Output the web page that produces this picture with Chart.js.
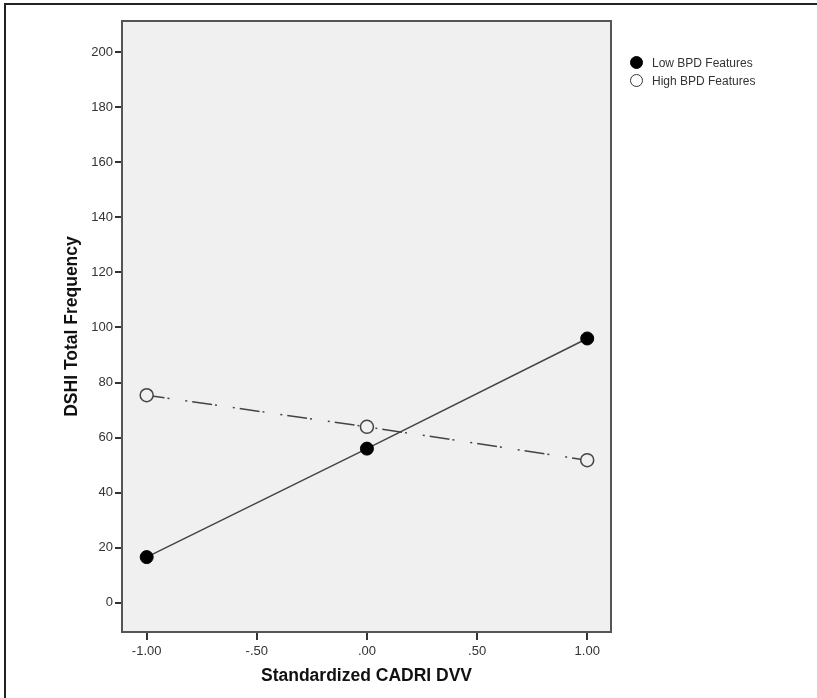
<!DOCTYPE html>
<html>
<head>
<meta charset="utf-8">
<script src="https://cdn.jsdelivr.net/npm/chart.js@4.4.0/dist/chart.umd.min.js"></script>
<style>
  body { margin: 0; background: #fff; font-family: "Liberation Sans", Arial, sans-serif; }
  #wrap { position: relative; width: 817px; height: 698px; overflow: hidden; }
  #frame { position: absolute; left: 4px; top: 3px; width: 900px; height: 900px; border-left: 2px solid #222; border-top: 2px solid #222; }
  #chart { position: absolute; left: 0; top: 0; }
  .leg { position: absolute; left: 630px; font-size: 12px; color: #333; line-height: 14px; }
  .leg span.dot { position: absolute; left: 0; top: 1px; width: 13px; height: 13px; border-radius: 50%; box-sizing: border-box; }
  .leg span.txt { position: absolute; left: 22px; top: 1px; white-space: nowrap; }
</style>
</head>
<body>
<div id="wrap">
  <div id="frame"></div>
  <canvas id="chart" width="817" height="698"></canvas>
  <div class="leg" style="top:55px"><span class="dot" style="background:#000;border:1.5px solid #000"></span><span class="txt">Low BPD Features</span></div>
  <div class="leg" style="top:73px"><span class="dot" style="background:#fff;border:1.5px solid #333"></span><span class="txt">High BPD Features</span></div>
</div>
<script>
// data
const xValues = [-1, 0, 1];
const lowBPD = [16.6, 56.0, 96.0];
const highBPD = [75.4, 63.9, 51.8];

const xTicks = [-1, -0.5, 0, 0.5, 1];
const xTickLabels = ['-1.00', '-.50', '.00', '.50', '1.00'];
const yTicks = [0, 20, 40, 60, 80, 100, 120, 140, 160, 180, 200];

const seriesNames = ['Low BPD Features', 'High BPD Features'];

// grey plot box
const plotBox = {
    id: 'plotBox',
    beforeDatasetsDraw(chart) {
        const a = chart.chartArea;
        const ctx = chart.ctx;
        ctx.save();
        ctx.fillStyle = '#f0f0f0';
        ctx.fillRect(a.left, a.top, a.right - a.left, a.bottom - a.top);
        ctx.strokeStyle = '#555';
        ctx.lineWidth = 2;
        ctx.strokeRect(a.left, a.top, a.right - a.left, a.bottom - a.top);
        ctx.restore();
    }
};

const tickFont = { family: '"Liberation Sans", Arial, sans-serif', size: 13 };
const titleFont = { family: '"Liberation Sans", Arial, sans-serif', size: 17.5, weight: 'bold' };

new Chart(document.getElementById('chart'), {
    type: 'line',
    data: {
        datasets: [
            {
                label: seriesNames[0],
                data: xValues.map((x, i) => ({ x: x, y: lowBPD[i] })),
                borderColor: '#444',
                borderWidth: 1.5,
                pointRadius: 6.5,
                pointBackgroundColor: '#000',
                pointBorderColor: '#000',
                pointBorderWidth: 1,
                tension: 0
            },
            {
                label: seriesNames[1],
                data: xValues.map((x, i) => ({ x: x, y: highBPD[i] })),
                borderColor: '#444',
                borderWidth: 1.5,
                borderDash: [20, 3, 2, 16, 2, 5],
                borderDashOffset: 2,
                pointRadius: 6.5,
                pointBackgroundColor: '#f0f0f0',
                pointBorderColor: '#444',
                pointBorderWidth: 1.5,
                tension: 0
            }
        ]
    },
    options: {
        responsive: false,
        animation: false,
        layout: { padding: { left: 0, top: 21, right: 206, bottom: 0 } },
        plugins: {
            legend: { display: false },
            tooltip: { enabled: false }
        },
        scales: {
            x: {
                type: 'linear',
                min: -1.112,
                max: 1.108,
                afterBuildTicks: s => { s.ticks = xTicks.map(v => ({ value: v })); },
                afterFit: s => { s.height = 66; },
                border: { display: false },
                grid: { drawOnChartArea: false, tickLength: 8, tickColor: '#333', tickWidth: 2, lineWidth: 2 },
                ticks: {
                    padding: 4,
                    color: '#333',
                    font: tickFont,
                    maxRotation: 0,
                    callback: (v) => xTickLabels[xTicks.indexOf(v)]
                },
                title: { display: true, text: 'Standardized CADRI DVV', color: '#111', font: titleFont, padding: { top: 0, bottom: 11 } }
            },
            y: {
                min: -10.6,
                max: 211.3,
                afterBuildTicks: s => { s.ticks = yTicks.map(v => ({ value: v })); },
                afterFit: s => { s.width = 122; },
                border: { display: false },
                grid: { drawOnChartArea: false, tickLength: 7, tickColor: '#333', tickWidth: 2, lineWidth: 2 },
                ticks: { padding: 2, color: '#333', font: tickFont },
                title: { display: true, text: 'DSHI Total Frequency', color: '#111', font: titleFont, padding: { top: 62, bottom: 0 } }
            }
        }
    },
    plugins: [plotBox]
});
</script>
</body>
</html>
